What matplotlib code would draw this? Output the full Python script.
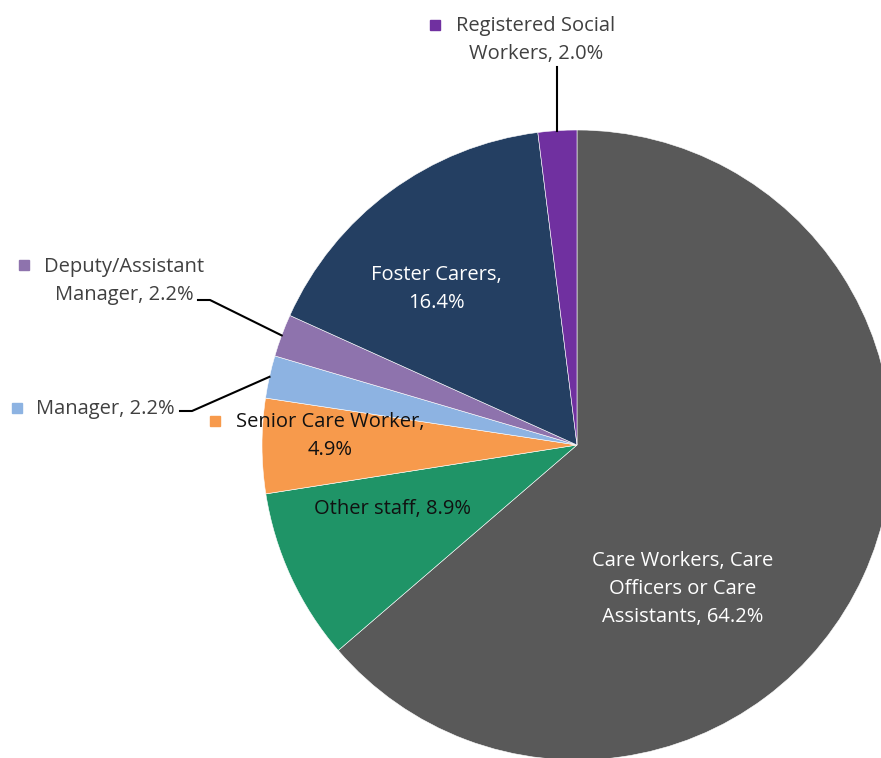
import numpy as np
import matplotlib.pyplot as plt

plt.rcParams['font.family'] = ['Open Sans', 'DejaVu Sans']

# data (clockwise from 12 o'clock)
labels = ['Care Workers, Care\nOfficers or Care\nAssistants', 'Other staff',
          'Senior Care Worker,', 'Manager', 'Deputy/Assistant\nManager',
          'Foster Carers,', 'Registered Social\nWorkers']
values = [64.2, 8.9, 4.9, 2.2, 2.2, 16.4, 2.0]
colors = ['#595959', '#1f9467', '#f79a4c', '#8db3e2', '#8e73ad', '#243f62', '#7030a0']

W, H = 881, 758
fig = plt.figure(figsize=(W / 100, H / 100), dpi=100)
ax = fig.add_axes([0, 0, 1, 1])

cx, cy, R = 577, H - 445, 315
wedges, _ = ax.pie(values, colors=colors, startangle=90, counterclock=False,
                   center=(cx, cy), radius=R, frame=True,
                   wedgeprops=dict(edgecolor='white', linewidth=0.4))
ax.set_xlim(0, W)
ax.set_ylim(0, H)
ax.set_aspect('equal')
ax.axis('off')


def y(v):
    return H - v


def edge_point(w, r=R):
    a = np.deg2rad((w.theta1 + w.theta2) / 2)
    return cx + r * np.cos(a), cy + r * np.sin(a)


def lab(i, sep=', '):
    return f'{labels[i]}{sep}{values[i]:.1f}%'


fs = 14.5
ls = 1.52
dark = '#404040'
black = '#111111'

# inside labels
ax.text(683, y(589), lab(0), ha='center', va='center', color='white',
        fontsize=fs, linespacing=ls)
ax.text(392, y(509), lab(1), ha='center', va='center', color=black, fontsize=fs)
ax.text(436, y(289), lab(5, '\n'), ha='center', va='center', color='white',
        fontsize=fs, linespacing=ls)

# senior care worker with key
ax.text(330, y(436), lab(2, '\n'), ha='center', va='center', color=black,
        fontsize=fs, linespacing=ls)
ax.plot(215, y(421), 's', ms=7.5, color=colors[2])

# manager
ax.text(105, y(409), lab(3), ha='center', va='center', color=dark, fontsize=fs)
ax.plot(17, y(408), 's', ms=7.5, color=colors[3])
px, py_ = edge_point(wedges[3])
ax.plot([180, 192, px], [y(411), y(411), py_], color='black', lw=1.5)

# deputy/assistant manager
ax.text(124, y(281), lab(4), ha='center', va='center', color=dark,
        fontsize=fs, linespacing=ls)
ax.plot(24, y(265), 's', ms=7.5, color=colors[4])
px, py_ = edge_point(wedges[4])
ax.plot([198, 210, px], [y(300), y(300), py_], color='black', lw=1.5)

# registered social workers
ax.text(536, y(40), lab(6), ha='center', va='center', color=dark,
        fontsize=fs, linespacing=ls)
ax.plot(435, y(25), 's', ms=7.5, color=colors[6])
px, py_ = edge_point(wedges[6])
ax.plot([px, px], [y(67), py_], color='black', lw=1.5)

fig.savefig('out.png', dpi=100)
